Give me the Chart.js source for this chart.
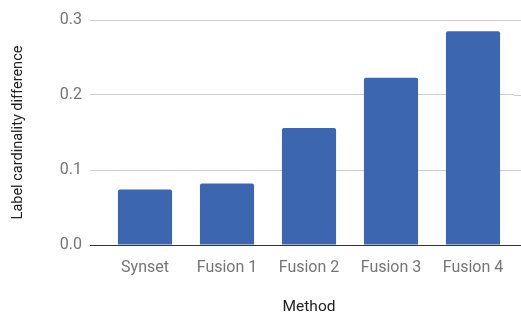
<!DOCTYPE html>
<html>
<head>
<meta charset="utf-8">
<script src="https://cdn.jsdelivr.net/npm/chart.js@4"></script>
<style>
  html, body { margin: 0; padding: 0; background: #fff; }
  #wrap { width: 521px; height: 316px; }
</style>
</head>
<body>
<div id="wrap"><canvas id="chart"></canvas></div>
<script>
// data
const methods = ['Synset', 'Fusion 1', 'Fusion 2', 'Fusion 3', 'Fusion 4'];
const cardinalityDiff = [0.074, 0.082, 0.156, 0.223, 0.285];
const yTicks = [0.0, 0.1, 0.2, 0.3];

// extend horizontal gridlines out to the right edge like the original
const gridExtend = {
  id: 'gridExtend',
  beforeDatasetsDraw(chart) {
    const { ctx, chartArea, scales } = chart;
    ctx.save();
    ctx.lineWidth = 1;
    yTicks.forEach(v => {
      const y = Math.round(scales.y.getPixelForValue(v)) + 0.5;
      ctx.strokeStyle = v === 0 ? '#333333' : '#cccccc';
      ctx.beginPath();
      ctx.moveTo(chartArea.right, y);
      ctx.lineTo(chart.width, y);
      ctx.stroke();
    });
    ctx.restore();
  }
};

const ctx = document.getElementById('chart').getContext('2d');
new Chart(ctx, {
  type: 'bar',
  data: {
    labels: methods,
    datasets: [{
      data: cardinalityDiff,
      backgroundColor: '#3d66b0',
      borderRadius: 2,
      borderSkipped: 'bottom',
      categoryPercentage: 0.66,
      barPercentage: 1.0
    }]
  },
  options: {
    responsive: true,
    maintainAspectRatio: false,
    animation: false,
    layout: { padding: { top: 20, right: 7, left: 0, bottom: 0 } },
    plugins: {
      legend: { display: false },
      tooltip: { enabled: false }
    },
    scales: {
      x: {
        grid: { display: false },
        border: { display: false },
        ticks: {
          color: '#757575',
          font: { family: 'Roboto', size: 16 },
          padding: 5
        },
        title: {
          display: true,
          text: 'Method',
          color: '#222222',
          font: { family: 'Roboto', size: 15.5, lineHeight: 1 },
          padding: { top: 0, bottom: 1 }
        },
        afterFit(scale) { scale.height = 71; }
      },
      y: {
        min: 0,
        max: 0.3,
        afterBuildTicks(scale) { scale.ticks = yTicks.map(v => ({ value: v })); },
        grid: {
          color: c => c.tick && c.tick.value === 0 ? '#333333' : '#cccccc',
          tickLength: 14,
          drawTicks: true
        },
        border: { display: false },
        ticks: {
          color: '#757575',
          font: { family: 'Roboto', size: 16 },
          padding: 8,
          callback: v => Number(v).toFixed(1)
        },
        title: {
          display: true,
          text: 'Label cardinality difference',
          color: '#222222',
          font: { family: 'Roboto', size: 14.5 },
          padding: { top: 10, bottom: 0 }
        },
        afterFit(scale) { scale.width = 104; }
      }
    }
  },
  plugins: [gridExtend]
});
</script>
</body>
</html>
